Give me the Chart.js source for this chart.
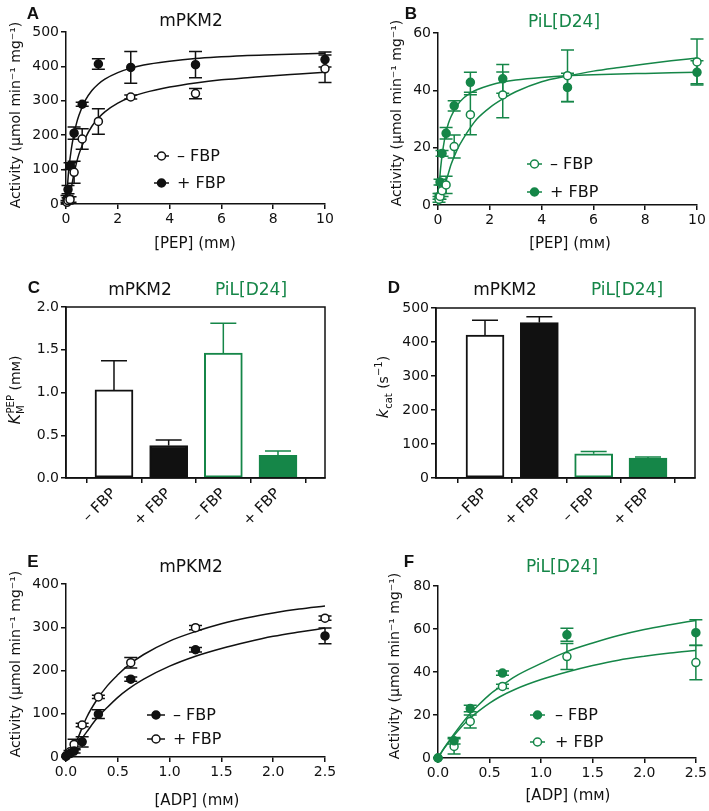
<!DOCTYPE html>
<html><head><meta charset="utf-8">
<script src="https://cdn.jsdelivr.net/npm/chart.js@4"></script>
<style>
body{margin:0;background:#fff}
#wrap{position:relative;width:709px;height:811px;background:#fff;font-family:"DejaVu Sans",sans-serif;color:#111;overflow:hidden}
canvas{position:absolute}
.t{position:absolute;transform:translate(-50%,-50%);white-space:nowrap;line-height:1}
.ti{font-size:17px}
.xt{font-size:15px}
.yt{position:absolute;transform:translate(-50%,-50%) rotate(-90deg);white-space:nowrap;font-size:14px;line-height:1}
.lt{font-family:"Liberation Sans",Arial,sans-serif;font-weight:bold;font-size:17px}
.g{color:#158648}
sub,sup{font-size:10px}
</style></head><body>
<div id="wrap">
<canvas id="cA" width="354" height="270" style="left:0;top:0;width:354px;height:270px"></canvas>
<canvas id="cB" width="354" height="270" style="left:355px;top:0;width:354px;height:270px"></canvas>
<canvas id="cC" width="354" height="270" style="left:0;top:270px;width:354px;height:270px"></canvas>
<canvas id="cD" width="354" height="270" style="left:355px;top:270px;width:354px;height:270px"></canvas>
<canvas id="cE" width="354" height="271" style="left:0;top:540px;width:354px;height:271px"></canvas>
<canvas id="cF" width="354" height="271" style="left:355px;top:540px;width:354px;height:271px"></canvas>

<div class="t lt" style="left:33px;top:13px">A</div>
<div class="t lt" style="left:411px;top:13px">B</div>
<div class="t lt" style="left:34px;top:287px">C</div>
<div class="t lt" style="left:394px;top:287px">D</div>
<div class="t lt" style="left:33px;top:561px">E</div>
<div class="t lt" style="left:409px;top:561px">F</div>

<div class="t ti" style="left:191px;top:20px">mPKM2</div>
<div class="t ti g" style="left:564px;top:21px">PiL[D24]</div>
<div class="t ti" style="left:140px;top:289px">mPKM2</div>
<div class="t ti g" style="left:251px;top:289px">PiL[D24]</div>
<div class="t ti" style="left:505px;top:289px">mPKM2</div>
<div class="t ti g" style="left:627px;top:289px">PiL[D24]</div>
<div class="t ti" style="left:191px;top:566px">mPKM2</div>
<div class="t ti g" style="left:562px;top:566px">PiL[D24]</div>

<div class="t xt" style="left:195px;top:243px">[PEP] (mᴍ)</div>
<div class="t xt" style="left:570px;top:243px">[PEP] (mᴍ)</div>
<div class="t xt" style="left:197px;top:800px">[ADP] (mᴍ)</div>
<div class="t xt" style="left:568px;top:795px">[ADP] (mᴍ)</div>

<div class="yt" style="left:15px;top:115px">Activity (µmol min⁻¹ mg⁻¹)</div>
<div class="yt" style="left:396px;top:113px">Activity (µmol min⁻¹ mg⁻¹)</div>
<div class="yt" style="left:16px;top:390px"><i style="font-size:16px">K</i><sub>M</sub><sup style="margin-left:-8px">PEP</sup> (mᴍ)</div>
<div class="yt" style="left:384px;top:387px"><i style="font-size:16px">k</i><sub>cat</sub> (s<sup>−1</sup>)</div>
<div class="yt" style="left:15px;top:664px">Activity (µmol min⁻¹ mg⁻¹)</div>
<div class="yt" style="left:394px;top:666px">Activity (µmol min⁻¹ mg⁻¹)</div>
</div>
<script>
// ---------- DATA ----------
const PEP = [0.039, 0.078, 0.156, 0.3125, 0.625, 1.25, 2.5, 5, 10];
const A_noFBP = [5, 10, 13, 92, 189, 240, 311, 321, 393];
const A_noFBP_err = [5, 8, 8, 32, 30, 37, 6, 15, 40];
const A_FBP = [15, 42, 110, 206, 290, 407, 397, 405, 420];
const A_FBP_err = [10, 12, 10, 18, 6, 15, 46, 38, 22];
const PEP_fitX = [0, 0.05, 0.1, 0.2, 0.3, 0.4, 0.5, 0.75, 1, 1.25, 1.5, 2, 2.5, 3, 4, 5, 6, 7, 8, 9, 10];
const A_fit_noFBP = [0, 3, 12, 45, 85, 118, 145, 192, 226, 250, 268, 293, 311, 323, 340, 352, 361, 367, 373, 378, 383];
const A_fit_FBP = [0, 45, 95, 157, 200, 233, 258, 302, 330, 349, 363, 382, 395, 404, 415, 423, 428, 432, 434, 436, 438];

const B_noFBP = [2, 3, 5, 7, 20.4, 31.5, 38.4, 45.1, 49.9];
const B_noFBP_err = [1, 1, 2, 3, 4, 7, 8, 9, 8];
const B_FBP = [3, 8, 18, 25, 34.6, 42.8, 44, 41, 46.3];
const B_FBP_err = [1, 1, 1, 2, 1.8, 3.5, 5, 5, 4];
const B_fit_noFBP = [0, 0.5, 2, 5, 8, 11, 14, 19.5, 23.5, 27, 30, 34, 37, 39.5, 43, 45, 46.7, 48, 49.2, 50.3, 51.3];
const B_fit_FBP = [0, 7, 12.8, 20, 25, 28.4, 30.8, 34.9, 37.4, 39, 40.2, 41.8, 42.9, 43.6, 44.5, 45.1, 45.4, 45.7, 45.9, 46.1, 46.3];

const BAR_LABELS = ['– FBP', '+ FBP', '– FBP', '+ FBP'];
const C_KM = [1.03, 0.38, 1.46, 0.265];
const C_KM_err = [0.34, 0.065, 0.35, 0.05];
const D_kcat = [420, 457, 71, 58.5];
const D_kcat_err = [44, 17, 7, 3];

const ADP_E = [0, 0.039, 0.078, 0.156, 0.3125, 0.625, 1.25, 2.5];
const E_noFBP = [2, 8, 14, 35, 99, 180, 248, 280];
const E_noFBP_err = [0, 3, 5, 12, 10, 5, 5, 18];
const E_FBP = [2, 12, 29, 74, 139, 218, 299, 321];
const E_FBP_err = [0, 3, 12, 4, 4, 12, 5, 5];
const ADP_fitX = [0, 0.05, 0.1, 0.2, 0.3, 0.4, 0.5, 0.6, 0.75, 1, 1.25, 1.5, 1.75, 2, 2.25, 2.5];
const E_fit_FBP = [0, 8, 35, 92, 133, 165, 190, 212, 237, 268, 290, 308, 322, 333, 342, 349];
const E_fit_noFBP = [0, 6, 25, 58, 90, 115, 138, 157, 180, 210, 233, 251, 266, 279, 289, 298];

const ADP_F = [0, 0.156, 0.3125, 0.625, 1.25, 2.5];
const F_noFBP = [0, 8, 23, 39.5, 57.3, 58.3];
const F_noFBP_err = [0, 1.5, 1.5, 1, 3, 6];
const F_FBP = [0, 5.4, 17, 33.3, 47.2, 44.4];
const F_FBP_err = [0, 3.5, 3, 1, 6, 8];
const F_fit_noFBP = [0, 4, 7.5, 14, 20, 25, 29.5, 33, 38, 44, 49.5, 53.5, 57, 59.8, 62, 64];
const F_fit_FBP = [0, 3.8, 7, 13, 18, 22, 25.5, 28.5, 32, 36.5, 40, 43, 45.5, 47.3, 48.8, 50];

// ---------- STYLE ----------
const BLACK = '#111111';
const GREEN = '#158648';
const FONT = '"DejaVu Sans", sans-serif';

const zip = (xs, ys) => xs.map((x, i) => ({x: x, y: ys[i]}));

const errPlugin = {
  id: 'errbars',
  beforeDatasetsDraw(chart) { drawErr(chart, false); },
  afterDatasetsDraw(chart) { drawErr(chart, true); }
};
function drawErr(chart, after) {
  const ctx = chart.ctx, xs = chart.scales.x, ys = chart.scales.y;
  chart.data.datasets.forEach(ds => {
    if (!ds.errors || !!ds.errAfter !== after) return;
    ctx.save();
    ctx.lineWidth = 1.5;
    ds.data.forEach((p, i) => {
      const e = ds.errors[i];
      if (!e) return;
      ctx.strokeStyle = Array.isArray(ds.errColor) ? ds.errColor[i] : ds.errColor;
      const x = xs.getPixelForValue(p.x);
      const yt = ys.getPixelForValue(p.y + e);
      const yb = ds.upOnly ? ys.getPixelForValue(p.y) : ys.getPixelForValue(Math.max(0, p.y - e));
      const w = ds.capW;
      ctx.beginPath();
      ctx.moveTo(x, yb); ctx.lineTo(x, yt);
      ctx.moveTo(x - w, yt); ctx.lineTo(x + w, yt);
      if (!ds.upOnly) { ctx.moveTo(x - w, yb); ctx.lineTo(x + w, yb); }
      ctx.stroke();
    });
    ctx.restore();
  });
}

function legendPlugin(items) {
  return {
    id: 'leg',
    afterDraw(chart) {
      const ctx = chart.ctx;
      ctx.save();
      items.forEach(it => {
        ctx.strokeStyle = it.color; ctx.lineWidth = 1.5;
        ctx.beginPath(); ctx.moveTo(it.x1, it.y); ctx.lineTo(it.x2, it.y); ctx.stroke();
        ctx.beginPath(); ctx.arc((it.x1 + it.x2) / 2, it.y, 4, 0, Math.PI * 2);
        ctx.fillStyle = it.filled ? it.color : '#fff';
        ctx.fill(); ctx.stroke();
        ctx.fillStyle = BLACK;
        ctx.font = '16px ' + FONT;
        ctx.textBaseline = 'middle';
        ctx.textAlign = 'left';
        ctx.fillText(it.text, it.tx, it.y + 1);
      });
      ctx.restore();
    }
  };
}

const framePlugin = {
  id: 'frame',
  afterDraw(chart) {
    const a = chart.chartArea, ctx = chart.ctx;
    ctx.save(); ctx.strokeStyle = BLACK; ctx.lineWidth = 1.5;
    ctx.strokeRect(a.left, a.top, a.right - a.left, a.bottom - a.top);
    ctx.restore();
  }
};

function axis(min, max, step, size, isX, fmt) {
  const ticks = {stepSize: step, color: BLACK, font: {family: FONT, size: 14}, padding: 2, autoSkip: false, maxRotation: 0, minRotation: 0};
  if (fmt) ticks.callback = fmt;
  return {
    type: 'linear', min: min, max: max, offset: false,
    border: {display: true, color: BLACK, width: 1.5},
    grid: {display: true, drawOnChartArea: false, drawTicks: true, tickLength: 5, color: BLACK, lineWidth: 1.5},
    ticks: ticks,
    afterFit(s) { if (isX) s.height = size; else s.width = size; }
  };
}

function ptsDS(xs, ys, errs, color, filled) {
  return {type: 'scatter', data: zip(xs, ys), errors: errs, errColor: color, capW: 6.5,
    showLine: false, pointRadius: 4, pointHoverRadius: 4, pointBorderWidth: 1.5,
    borderColor: color, backgroundColor: filled ? color : '#ffffff', clip: false};
}
function fitDS(xs, ys, color) {
  return {type: 'line', data: zip(xs, ys), borderColor: color, borderWidth: 1.5, pointRadius: 0,
    cubicInterpolationMode: 'monotone', fill: false, clip: false};
}

function curveChart(id, cfg) {
  new Chart(document.getElementById(id), {
    type: 'scatter',
    data: {datasets: cfg.datasets},
    options: {
      responsive: false, animation: false, events: [],
      layout: {padding: {left: 0, right: cfg.padR, top: cfg.padT, bottom: 0}},
      plugins: {legend: {display: false}, tooltip: {enabled: false}},
      scales: {
        x: axis(cfg.xmin, cfg.xmax, cfg.xstep, cfg.xh, true, cfg.xfmt),
        y: axis(0, cfg.ymax, cfg.ystep, cfg.yw, false, cfg.yfmt)
      }
    },
    plugins: [errPlugin, legendPlugin(cfg.legend)]
  });
}

function barChart(id, cfg) {
  const colorsB = [BLACK, BLACK, GREEN, GREEN];
  const fills = ['#ffffff', BLACK, '#ffffff', GREEN];
  const xAx = axis(cfg.xmin, cfg.xmax, 1, cfg.xh, true, (v, i) => BAR_LABELS[i]);
  xAx.ticks.minRotation = 45; xAx.ticks.maxRotation = 45;
  xAx.ticks.font = {family: FONT, size: 15};
  xAx.afterBuildTicks = s => { s.ticks = BAR_LABELS.map((l, i) => ({value: i})); };
  new Chart(document.getElementById(id), {
    type: 'bar',
    data: {datasets: [{
      data: cfg.values.map((v, i) => ({x: i, y: v})),
      backgroundColor: fills, borderColor: colorsB, borderWidth: 2, borderSkipped: false,
      barThickness: 38, errors: cfg.errs, errColor: colorsB, upOnly: true, errAfter: true, capW: 13
    }]},
    options: {
      responsive: false, animation: false, events: [],
      layout: {padding: {left: 0, right: cfg.padR, top: cfg.padT, bottom: 0}},
      plugins: {legend: {display: false}, tooltip: {enabled: false}},
      scales: {x: xAx, y: axis(0, cfg.ymax, cfg.ystep, cfg.yw, false, cfg.yfmt)}
    },
    plugins: [errPlugin, framePlugin]
  });
}

const f1 = v => Number(v).toFixed(1);

curveChart('cA', {
  datasets: [
    ptsDS(PEP, A_noFBP, A_noFBP_err, BLACK, false),
    ptsDS(PEP, A_FBP, A_FBP_err, BLACK, true),
    fitDS(PEP_fitX, A_fit_noFBP, BLACK),
    fitDS(PEP_fitX, A_fit_FBP, BLACK)
  ],
  xmin: 0, xmax: 10, xstep: 2, ymax: 500, ystep: 100,
  padR: 29, padT: 32, yw: 66, xh: 66,
  legend: [
    {x1: 154, x2: 169, y: 156, tx: 177, text: '– FBP', color: BLACK, filled: false},
    {x1: 154, x2: 169, y: 183, tx: 177, text: '+ FBP', color: BLACK, filled: true}
  ]
});

curveChart('cB', {
  datasets: [
    ptsDS(PEP, B_noFBP, B_noFBP_err, GREEN, false),
    ptsDS(PEP, B_FBP, B_FBP_err, GREEN, true),
    fitDS(PEP_fitX, B_fit_noFBP, GREEN),
    fitDS(PEP_fitX, B_fit_FBP, GREEN)
  ],
  xmin: 0, xmax: 10, xstep: 2, ymax: 60, ystep: 20,
  padR: 12, padT: 33, yw: 83, xh: 65,
  legend: [
    {x1: 172, x2: 187, y: 164, tx: 195, text: '– FBP', color: GREEN, filled: false},
    {x1: 172, x2: 187, y: 192, tx: 195, text: '+ FBP', color: GREEN, filled: true}
  ]
});

barChart('cC', {values: C_KM, errs: C_KM_err, xmin: -0.878, xmax: 3.86, ymax: 2, ystep: 0.5, yfmt: f1,
  padR: 29, padT: 37, yw: 66, xh: 62});
barChart('cD', {values: D_kcat, errs: D_kcat_err, xmin: -0.902, xmax: 3.865, ymax: 500, ystep: 100,
  padR: 14, padT: 38, yw: 81, xh: 62});

curveChart('cE', {
  datasets: [
    ptsDS(ADP_E, E_noFBP, E_noFBP_err, BLACK, true),
    ptsDS(ADP_E, E_FBP, E_FBP_err, BLACK, false),
    fitDS(ADP_fitX, E_fit_noFBP, BLACK),
    fitDS(ADP_fitX, E_fit_FBP, BLACK)
  ],
  xmin: 0, xmax: 2.5, xstep: 0.5, xfmt: f1, ymax: 400, ystep: 100,
  padR: 29, padT: 44, yw: 66, xh: 54,
  legend: [
    {x1: 147, x2: 165, y: 175, tx: 173, text: '– FBP', color: BLACK, filled: true},
    {x1: 147, x2: 165, y: 199, tx: 173, text: '+ FBP', color: BLACK, filled: false}
  ]
});

curveChart('cF', {
  datasets: [
    ptsDS(ADP_F, F_noFBP, F_noFBP_err, GREEN, true),
    ptsDS(ADP_F, F_FBP, F_FBP_err, GREEN, false),
    fitDS(ADP_fitX, F_fit_noFBP, GREEN),
    fitDS(ADP_fitX, F_fit_FBP, GREEN)
  ],
  xmin: 0, xmax: 2.5, xstep: 0.5, xfmt: f1, ymax: 80, ystep: 20,
  padR: 13, padT: 46, yw: 83, xh: 53,
  legend: [
    {x1: 175, x2: 190, y: 175, tx: 200, text: '– FBP', color: GREEN, filled: true},
    {x1: 175, x2: 190, y: 202, tx: 200, text: '+ FBP', color: GREEN, filled: false}
  ]
});
</script>
</body></html>
